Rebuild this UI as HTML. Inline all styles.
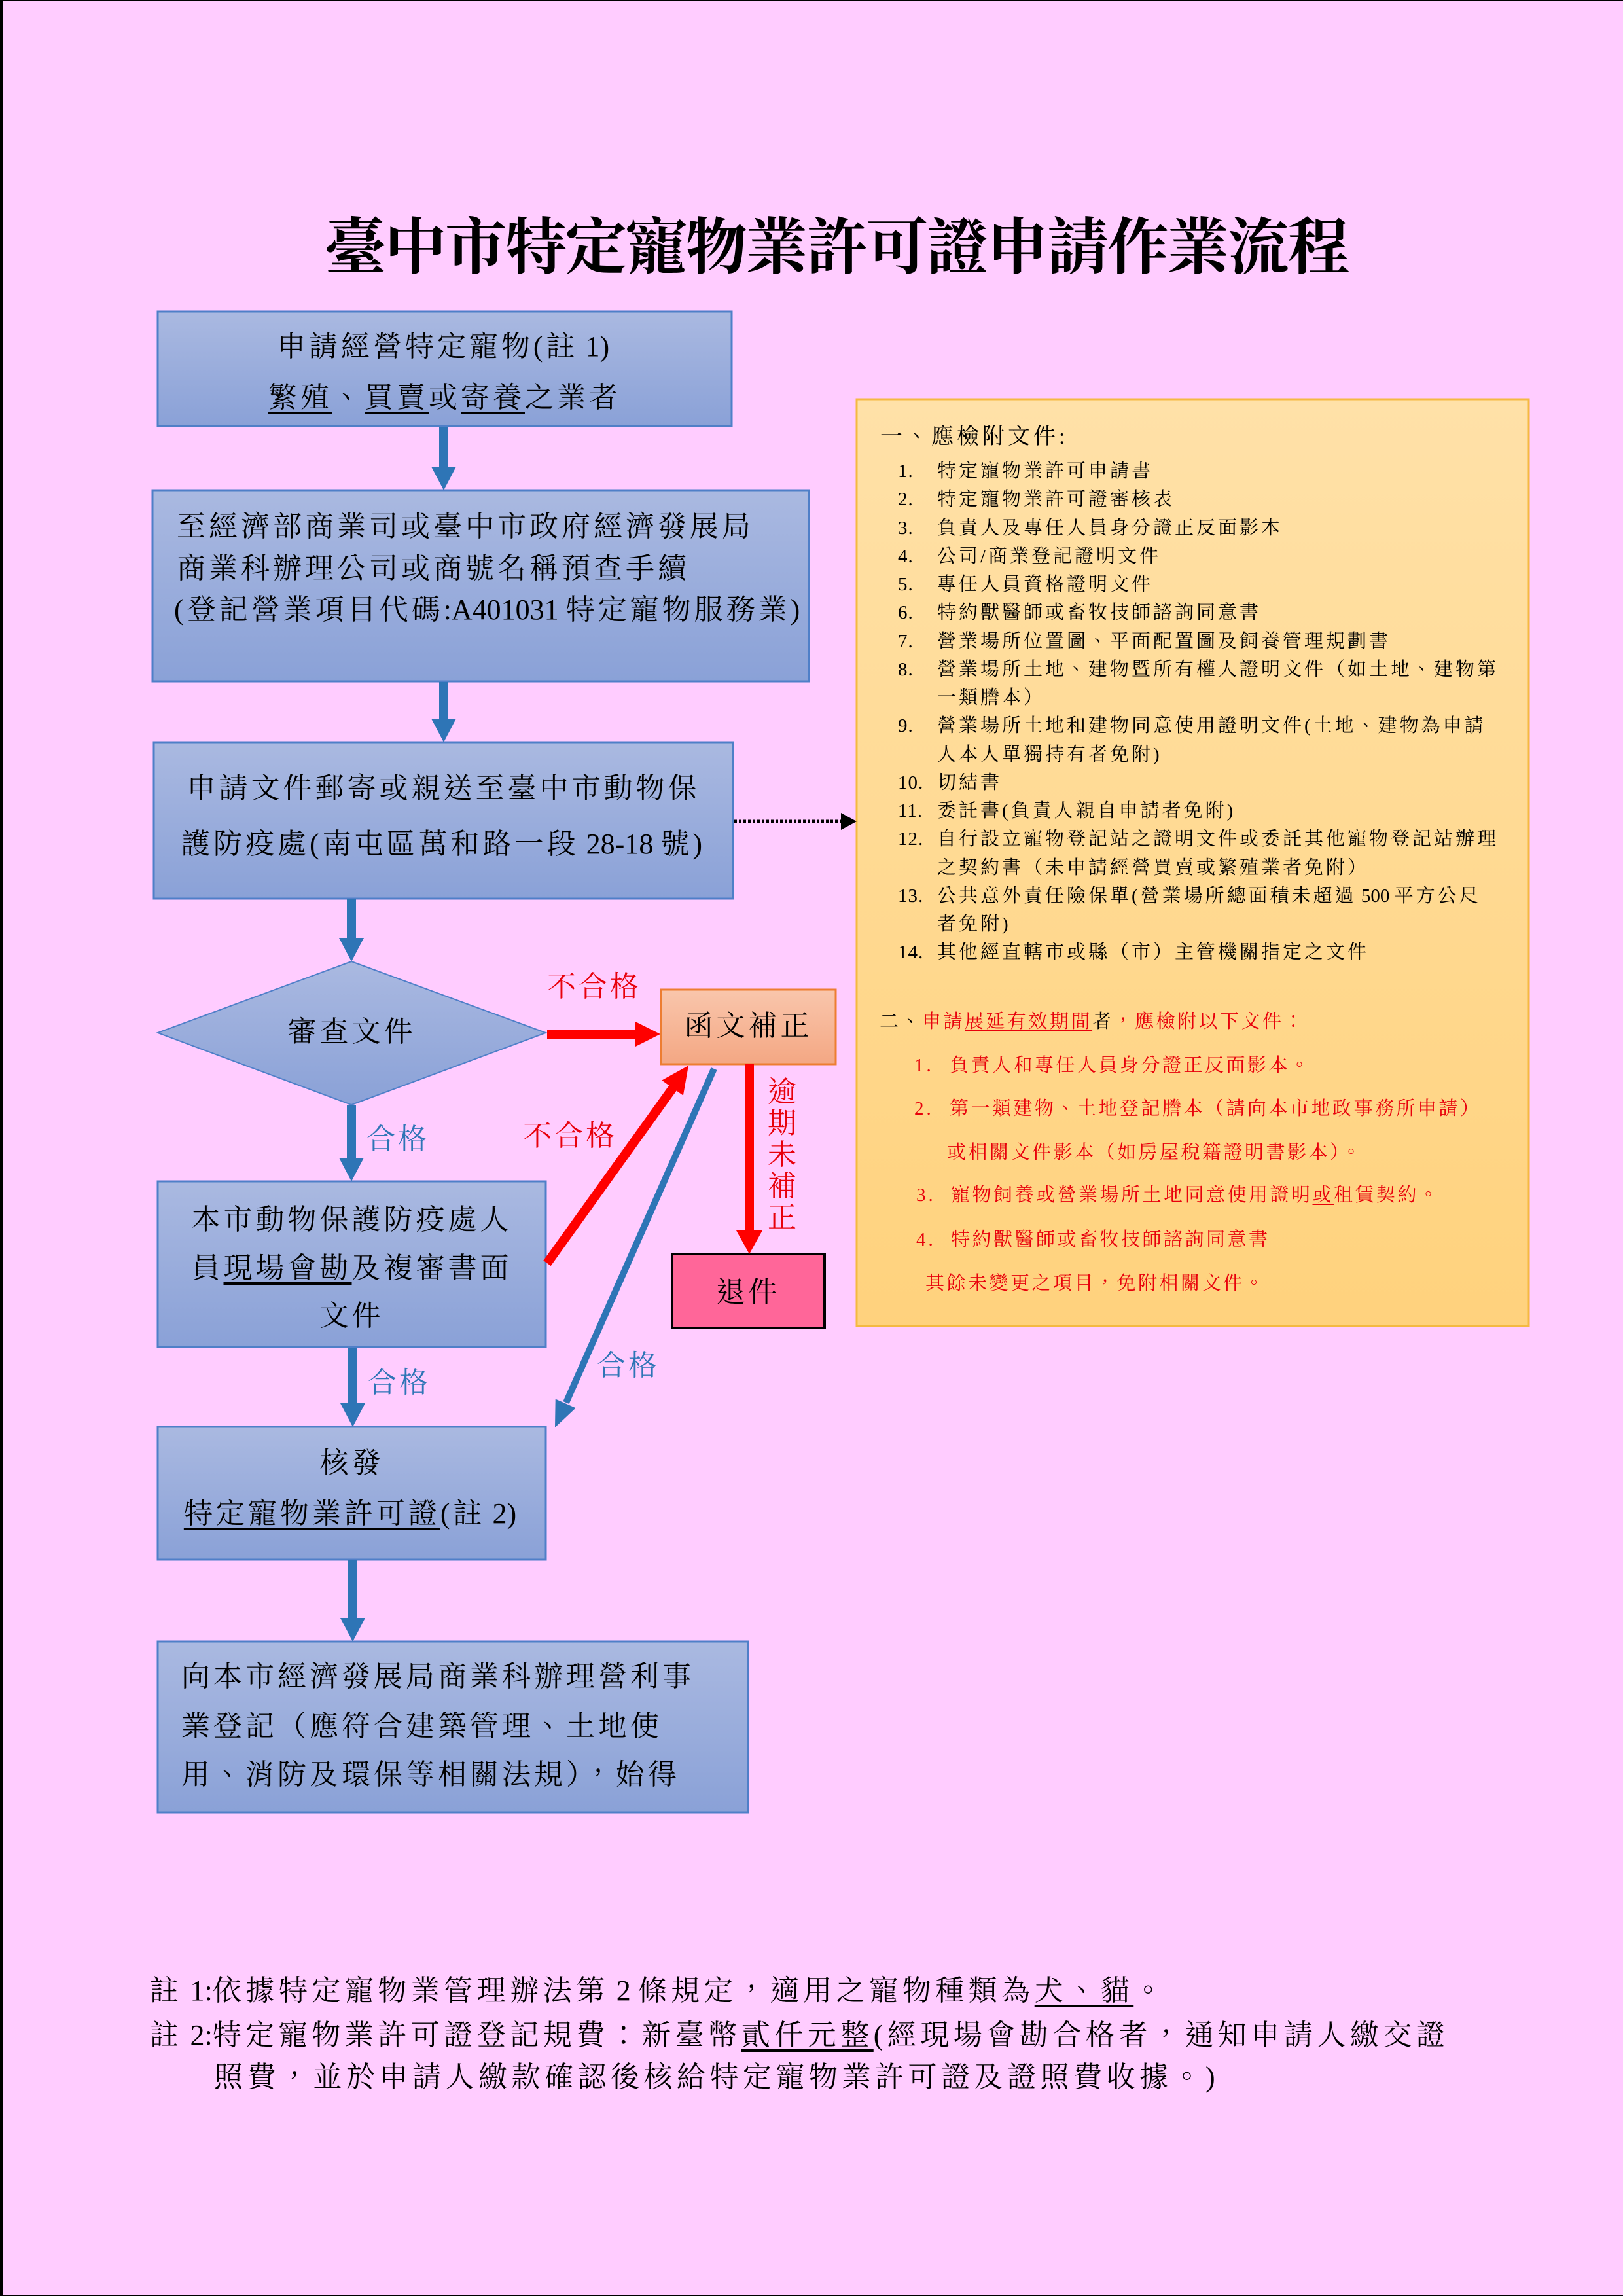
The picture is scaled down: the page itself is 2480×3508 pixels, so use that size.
<!DOCTYPE html>
<html><head><meta charset="utf-8">
<style>
html,body{margin:0;padding:0;}
body{width:2480px;height:3508px;background:#FFCCFF;position:relative;overflow:hidden;}
.t{position:absolute;white-space:nowrap;font-family:"Liberation Serif","Noto Serif CJK TC","Noto Serif CJK SC",serif;color:#000;}
.b{font-size:44px;line-height:44px;letter-spacing:5px;}
.n{letter-spacing:6.5px;}
.c{text-align:center;}
.y{font-size:29px;line-height:29px;letter-spacing:4px;}
.r{color:#E8000B;}
.bl{color:#2E75B6;}
.l{letter-spacing:0;}
u{text-decoration:underline;text-decoration-thickness:4px;text-underline-offset:7px;}
.y u{text-decoration-thickness:2px;text-underline-offset:4px;}
</style></head>
<body>
<svg width="2480" height="3508" style="position:absolute;left:0;top:0" xmlns="http://www.w3.org/2000/svg">
<defs>
<linearGradient id="bg" x1="0" y1="0" x2="0" y2="1"><stop offset="0" stop-color="#AAB9E1"/><stop offset="1" stop-color="#8AA1D7"/></linearGradient>
<linearGradient id="yg" x1="0" y1="0" x2="0" y2="1"><stop offset="0" stop-color="#FFE1A8"/><stop offset="1" stop-color="#FFD27D"/></linearGradient>
<linearGradient id="og" x1="0" y1="0" x2="0" y2="1"><stop offset="0" stop-color="#F9C6AC"/><stop offset="1" stop-color="#F4A783"/></linearGradient>
</defs>
<rect x="0" y="0" width="4" height="3508" fill="#000"/>
<rect x="0" y="0" width="2480" height="2" fill="#000"/>
<rect x="0" y="3506" width="2480" height="2" fill="#000"/>

<rect x="241" y="476" width="877" height="175" fill="url(#bg)" stroke="#4F7FC8" stroke-width="3"/>
<rect x="233" y="749" width="1003" height="292" fill="url(#bg)" stroke="#4F7FC8" stroke-width="3"/>
<rect x="235" y="1134" width="885" height="239" fill="url(#bg)" stroke="#4F7FC8" stroke-width="3"/>
<polygon points="241,1578 537,1469 834,1578 537,1688" fill="url(#bg)" stroke="#4F7FC8" stroke-width="2"/>
<rect x="241" y="1805" width="593" height="253" fill="url(#bg)" stroke="#4F7FC8" stroke-width="3"/>
<rect x="241" y="2180" width="593" height="203" fill="url(#bg)" stroke="#4F7FC8" stroke-width="3"/>
<rect x="241" y="2508" width="902" height="261" fill="url(#bg)" stroke="#4F7FC8" stroke-width="3"/>
<rect x="1309" y="610" width="1027" height="1416" fill="url(#yg)" stroke="#F4B942" stroke-width="3"/>
<rect x="1010" y="1512" width="267" height="114" fill="url(#og)" stroke="#ED7D31" stroke-width="3"/>
<rect x="1027" y="1916" width="233" height="113" fill="#FF6699" stroke="#000" stroke-width="4"/>

<g fill="#2E75B6">
<rect x="671" y="652" width="14" height="63"/><polygon points="659,713 697,713 678,749"/>
<rect x="671" y="1042" width="14" height="58"/><polygon points="659,1098 697,1098 678,1134"/>
<rect x="530" y="1374" width="14" height="61"/><polygon points="518,1433 556,1433 537,1469"/>
<rect x="530" y="1688" width="14" height="83"/><polygon points="518,1769 556,1769 537,1805"/>
<rect x="532" y="2059" width="14" height="87"/><polygon points="520,2144 558,2144 539,2180"/>
<rect x="532" y="2384" width="14" height="90"/><polygon points="520,2472 558,2472 539,2508"/>
</g>

<line x1="1122" y1="1255" x2="1288" y2="1255" stroke="#000" stroke-width="5" stroke-dasharray="4 3"/>
<polygon points="1285,1242 1285,1268 1309,1255" fill="#000"/>

<g fill="#FF0000">
<rect x="836" y="1574" width="139" height="13"/><polygon points="971,1561 971,1599 1009,1580"/>
<rect x="1138" y="1626" width="14" height="256"/><polygon points="1125,1880 1165,1880 1145,1916"/>
<polygon points="1043.9,1673.8 1011.3,1650.6 1052,1628"/>
</g>
<line x1="836" y1="1930" x2="1029" y2="1661" stroke="#FF0000" stroke-width="14"/>

<line x1="1091" y1="1633" x2="865" y2="2143" stroke="#2E75B6" stroke-width="10"/>
<polygon points="879.7,2151.3 848.7,2137.5 848,2181" fill="#2E75B6"/>
</svg>

<div class="t" style="left:496px;top:332px;font-size:94px;line-height:94px;letter-spacing:-2px;font-weight:bold;">臺中市特定寵物業許可證申請作業流程</div>

<div class="t b c" style="left:241px;width:877px;top:508px;">申請經營特定寵物(註<span class="l"> 1</span>)</div>
<div class="t b c" style="left:241px;width:877px;top:586px;"><u>繁殖</u>、<u>買賣</u>或<u>寄養</u>之業者</div>

<div class="t b" style="left:270px;top:783px;">至經濟部商業司或臺中市政府經濟發展局</div>
<div class="t b" style="left:270px;top:847px;">商業科辦理公司或商號名稱預查手續</div>
<div class="t b" style="left:266px;top:910px;">(登記營業項目代碼<span class="l">:A401031 </span>特定寵物服務業)</div>

<div class="t b c" style="left:235px;width:885px;top:1183px;">申請文件郵寄或親送至臺中市動物保</div>
<div class="t b c" style="left:235px;width:885px;top:1268px;">護防疫處(南屯區萬和路一段<span class="l"> 28-18 </span>號)</div>

<div class="t b c" style="left:241px;width:593px;top:1555px;">審查文件</div>

<div class="t b c r" style="left:758px;width:300px;top:1486px;letter-spacing:4px;">不合格</div>
<div class="t b c" style="left:1010px;width:267px;top:1546px;">函文補正</div>
<div class="t c r" style="left:1170px;width:50px;top:1645px;font-size:44px;line-height:48px;">逾<br>期<br>未<br>補<br>正</div>
<div class="t b c" style="left:1027px;width:233px;top:1953px;">退件</div>
<div class="t b c r" style="left:721px;width:300px;top:1714px;letter-spacing:4px;">不合格</div>
<div class="t b c bl" style="left:508px;width:200px;top:1719px;letter-spacing:4px;">合格</div>
<div class="t b c bl" style="left:510px;width:200px;top:2091px;letter-spacing:4px;">合格</div>
<div class="t b c bl" style="left:860px;width:200px;top:2065px;letter-spacing:4px;">合格</div>

<div class="t b c" style="left:241px;width:593px;top:1842px;">本市動物保護防疫處人</div>
<div class="t b c" style="left:241px;width:593px;top:1916px;">員<u>現場會勘</u>及複審書面</div>
<div class="t b c" style="left:241px;width:593px;top:1989px;">文件</div>

<div class="t b c" style="left:241px;width:593px;top:2214px;">核發</div>
<div class="t b c" style="left:241px;width:593px;top:2291px;"><u>特定寵物業許可證</u>(註<span class="l"> 2</span>)</div>

<div class="t b" style="left:277px;top:2540px;">向本市經濟發展局商業科辦理營利事</div>
<div class="t b" style="left:277px;top:2616px;">業登記（應符合建築管理、土地使</div>
<div class="t b" style="left:277px;top:2690px;">用、消防及環保等相關法規），始得</div>

<div class="t" style="left:1345px;top:651px;font-size:34px;line-height:34px;letter-spacing:5px;">一、應檢附文件:</div>
<div class="t y" style="left:1372px;top:699px;line-height:43.25px;letter-spacing:1px;">1.<br>2.<br>3.<br>4.<br>5.<br>6.<br>7.<br>8.<br><br>9.<br><br>10.<br>11.<br>12.<br><br>13.<br><br>14.</div>
<div class="t y" style="left:1432px;top:699px;line-height:43.25px;">特定寵物業許可申請書<br>特定寵物業許可證審核表<br>負責人及專任人員身分證正反面影本<br>公司/商業登記證明文件<br>專任人員資格證明文件<br>特約獸醫師或畜牧技師諮詢同意書<br>營業場所位置圖、平面配置圖及飼養管理規劃書<br>營業場所土地、建物暨所有權人證明文件（如土地、建物第<br>一類謄本）<br>營業場所土地和建物同意使用證明文件(土地、建物為申請<br>人本人單獨持有者免附)<br>切結書<br>委託書(負責人親自申請者免附)<br>自行設立寵物登記站之證明文件或委託其他寵物登記站辦理<br>之契約書（未申請經營買賣或繁殖業者免附）<br>公共意外責任險保單(營業場所總面積未超過<span class="l"> 500 </span>平方公尺<br>者免附)<br>其他經直轄市或縣（市）主管機關指定之文件</div>

<div class="t y" style="left:1344px;top:1547px;letter-spacing:3.5px;">二、<span class="r">申請<u>展延有效期間</u></span>者<span class="r">，應檢附以下文件：</span></div>
<div class="t y r" style="left:1397px;top:1614px;">1.</div>
<div class="t y r" style="left:1451px;top:1614px;letter-spacing:3.5px;">負責人和專任人員身分證正反面影本。</div>
<div class="t y r" style="left:1397px;top:1680px;">2.</div>
<div class="t y r" style="left:1451px;top:1680px;letter-spacing:3.5px;">第一類建物、土地登記謄本（請向本市地政事務所申請）</div>
<div class="t y r" style="left:1447px;top:1747px;letter-spacing:3.5px;">或相關文件影本（如房屋稅籍證明書影本）。</div>
<div class="t y r" style="left:1400px;top:1812px;">3.</div>
<div class="t y r" style="left:1453px;top:1812px;letter-spacing:3.5px;">寵物飼養或營業場所土地同意使用證明<u>或</u>租賃契約。</div>
<div class="t y r" style="left:1400px;top:1880px;">4.</div>
<div class="t y r" style="left:1453px;top:1880px;letter-spacing:3.5px;">特約獸醫師或畜牧技師諮詢同意書</div>
<div class="t y r" style="left:1414px;top:1947px;letter-spacing:3.5px;">其餘未變更之項目，免附相關文件。</div>

<div class="t b n" style="left:229px;top:3020px;">註<span class="l"> 1:</span>依據特定寵物業管理辦法第<span class="l"> 2 </span>條規定，適用之寵物種類為<u>犬、貓</u>。</div>
<div class="t b n" style="left:229px;top:3088px;">註<span class="l"> 2:</span>特定寵物業許可證登記規費：新臺幣<u>貳仟元整</u>(經現場會勘合格者，通知申請人繳交證</div>
<div class="t b n" style="left:327px;top:3152px;">照費，並於申請人繳款確認後核給特定寵物業許可證及證照費收據。)</div>
</body></html>
